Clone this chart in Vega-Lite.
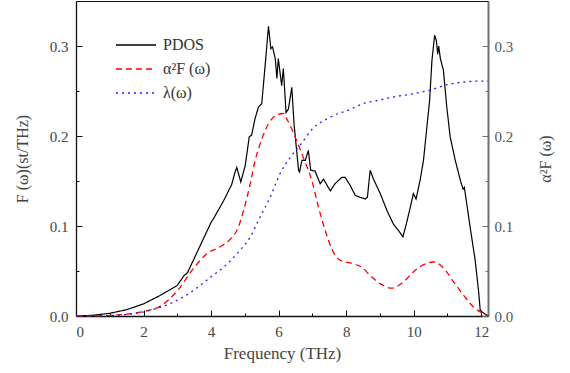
{
  "$schema": "https://vega.github.io/schema/vega-lite/v6.json",
  "autosize": "none",
  "width": 412,
  "height": 315,
  "padding": {"left": 76, "top": 1, "right": 82, "bottom": 57},
  "background": "white",
  "config": {
    "view": {"stroke": "#111", "strokeWidth": 1},
    "font": "Liberation Serif",
    "axis": {
      "grid": false,
      "labelFont": "Liberation Serif",
      "titleFont": "Liberation Serif",
      "labelFontSize": 15,
      "titleFontSize": 16,
      "titleFontWeight": "normal",
      "labelColor": "#444",
      "titleColor": "#444",
      "domainColor": "#111",
      "tickColor": "#111",
      "domainWidth": 1.3,
      "tickWidth": 1
    },
    "legend": {
      "labelFont": "Liberation Serif",
      "labelFontSize": 16,
      "labelColor": "#333"
    }
  },
  "datasets": {
    "curves": [
      {"f": 0, "v": 0, "s": "PDOS"},
      {"f": 0.5, "v": 0.0008, "s": "PDOS"},
      {"f": 1.0, "v": 0.003, "s": "PDOS"},
      {"f": 1.5, "v": 0.007, "s": "PDOS"},
      {"f": 2.0, "v": 0.0135, "s": "PDOS"},
      {"f": 2.5, "v": 0.023, "s": "PDOS"},
      {"f": 3.0, "v": 0.034, "s": "PDOS"},
      {"f": 3.2, "v": 0.045, "s": "PDOS"},
      {"f": 3.3, "v": 0.048, "s": "PDOS"},
      {"f": 3.5, "v": 0.064, "s": "PDOS"},
      {"f": 3.8, "v": 0.088, "s": "PDOS"},
      {"f": 4.0, "v": 0.104, "s": "PDOS"},
      {"f": 4.1, "v": 0.110, "s": "PDOS"},
      {"f": 4.37, "v": 0.128, "s": "PDOS"},
      {"f": 4.61, "v": 0.146, "s": "PDOS"},
      {"f": 4.71, "v": 0.160, "s": "PDOS"},
      {"f": 4.76, "v": 0.165, "s": "PDOS"},
      {"f": 4.88, "v": 0.149, "s": "PDOS"},
      {"f": 5.01, "v": 0.167, "s": "PDOS"},
      {"f": 5.13, "v": 0.199, "s": "PDOS"},
      {"f": 5.2, "v": 0.201, "s": "PDOS"},
      {"f": 5.3, "v": 0.219, "s": "PDOS"},
      {"f": 5.4, "v": 0.232, "s": "PDOS"},
      {"f": 5.5, "v": 0.236, "s": "PDOS"},
      {"f": 5.6, "v": 0.278, "s": "PDOS"},
      {"f": 5.7, "v": 0.322, "s": "PDOS"},
      {"f": 5.77, "v": 0.297, "s": "PDOS"},
      {"f": 5.82, "v": 0.299, "s": "PDOS"},
      {"f": 5.9, "v": 0.286, "s": "PDOS"},
      {"f": 5.95, "v": 0.264, "s": "PDOS"},
      {"f": 5.99, "v": 0.286, "s": "PDOS"},
      {"f": 6.09, "v": 0.256, "s": "PDOS"},
      {"f": 6.14, "v": 0.275, "s": "PDOS"},
      {"f": 6.22, "v": 0.226, "s": "PDOS"},
      {"f": 6.29, "v": 0.230, "s": "PDOS"},
      {"f": 6.39, "v": 0.254, "s": "PDOS"},
      {"f": 6.46, "v": 0.212, "s": "PDOS"},
      {"f": 6.59, "v": 0.162, "s": "PDOS"},
      {"f": 6.62, "v": 0.160, "s": "PDOS"},
      {"f": 6.69, "v": 0.173, "s": "PDOS"},
      {"f": 6.79, "v": 0.173, "s": "PDOS"},
      {"f": 6.88, "v": 0.184, "s": "PDOS"},
      {"f": 6.95, "v": 0.162, "s": "PDOS"},
      {"f": 7.08, "v": 0.161, "s": "PDOS"},
      {"f": 7.23, "v": 0.147, "s": "PDOS"},
      {"f": 7.33, "v": 0.152, "s": "PDOS"},
      {"f": 7.53, "v": 0.139, "s": "PDOS"},
      {"f": 7.67, "v": 0.147, "s": "PDOS"},
      {"f": 7.87, "v": 0.154, "s": "PDOS"},
      {"f": 7.97, "v": 0.154, "s": "PDOS"},
      {"f": 8.12, "v": 0.145, "s": "PDOS"},
      {"f": 8.27, "v": 0.134, "s": "PDOS"},
      {"f": 8.41, "v": 0.132, "s": "PDOS"},
      {"f": 8.56, "v": 0.130, "s": "PDOS"},
      {"f": 8.63, "v": 0.132, "s": "PDOS"},
      {"f": 8.71, "v": 0.162, "s": "PDOS"},
      {"f": 8.81, "v": 0.152, "s": "PDOS"},
      {"f": 9.01, "v": 0.136, "s": "PDOS"},
      {"f": 9.21, "v": 0.117, "s": "PDOS"},
      {"f": 9.4, "v": 0.102, "s": "PDOS"},
      {"f": 9.55, "v": 0.095, "s": "PDOS"},
      {"f": 9.68, "v": 0.088, "s": "PDOS"},
      {"f": 9.78, "v": 0.102, "s": "PDOS"},
      {"f": 9.9, "v": 0.121, "s": "PDOS"},
      {"f": 9.99, "v": 0.136, "s": "PDOS"},
      {"f": 10.07, "v": 0.130, "s": "PDOS"},
      {"f": 10.19, "v": 0.151, "s": "PDOS"},
      {"f": 10.29, "v": 0.173, "s": "PDOS"},
      {"f": 10.39, "v": 0.210, "s": "PDOS"},
      {"f": 10.47, "v": 0.239, "s": "PDOS"},
      {"f": 10.54, "v": 0.284, "s": "PDOS"},
      {"f": 10.62, "v": 0.312, "s": "PDOS"},
      {"f": 10.67, "v": 0.306, "s": "PDOS"},
      {"f": 10.71, "v": 0.291, "s": "PDOS"},
      {"f": 10.74, "v": 0.300, "s": "PDOS"},
      {"f": 10.79, "v": 0.286, "s": "PDOS"},
      {"f": 10.88, "v": 0.273, "s": "PDOS"},
      {"f": 10.98, "v": 0.232, "s": "PDOS"},
      {"f": 11.08, "v": 0.199, "s": "PDOS"},
      {"f": 11.23, "v": 0.173, "s": "PDOS"},
      {"f": 11.38, "v": 0.151, "s": "PDOS"},
      {"f": 11.46, "v": 0.141, "s": "PDOS"},
      {"f": 11.5, "v": 0.143, "s": "PDOS"},
      {"f": 11.67, "v": 0.099, "s": "PDOS"},
      {"f": 11.82, "v": 0.062, "s": "PDOS"},
      {"f": 11.92, "v": 0.028, "s": "PDOS"},
      {"f": 11.97, "v": 0.006, "s": "PDOS"},
      {"f": 12.12, "v": 0.002, "s": "PDOS"},
      {"f": 12.2, "v": 0.0, "s": "PDOS"},

      {"f": 0, "v": 0, "s": "α²F (ω)"},
      {"f": 1.0, "v": 0.0006, "s": "α²F (ω)"},
      {"f": 1.5, "v": 0.002, "s": "α²F (ω)"},
      {"f": 2.0, "v": 0.005, "s": "α²F (ω)"},
      {"f": 2.5, "v": 0.011, "s": "α²F (ω)"},
      {"f": 3.0, "v": 0.028, "s": "α²F (ω)"},
      {"f": 3.5, "v": 0.054, "s": "α²F (ω)"},
      {"f": 3.87, "v": 0.069, "s": "α²F (ω)"},
      {"f": 4.27, "v": 0.077, "s": "α²F (ω)"},
      {"f": 4.56, "v": 0.085, "s": "α²F (ω)"},
      {"f": 4.81, "v": 0.099, "s": "α²F (ω)"},
      {"f": 4.96, "v": 0.117, "s": "α²F (ω)"},
      {"f": 5.16, "v": 0.147, "s": "α²F (ω)"},
      {"f": 5.3, "v": 0.172, "s": "α²F (ω)"},
      {"f": 5.45, "v": 0.191, "s": "α²F (ω)"},
      {"f": 5.6, "v": 0.206, "s": "α²F (ω)"},
      {"f": 5.8, "v": 0.219, "s": "α²F (ω)"},
      {"f": 6.0, "v": 0.224, "s": "α²F (ω)"},
      {"f": 6.14, "v": 0.225, "s": "α²F (ω)"},
      {"f": 6.24, "v": 0.219, "s": "α²F (ω)"},
      {"f": 6.49, "v": 0.199, "s": "α²F (ω)"},
      {"f": 6.73, "v": 0.176, "s": "α²F (ω)"},
      {"f": 6.98, "v": 0.151, "s": "α²F (ω)"},
      {"f": 7.18, "v": 0.121, "s": "α²F (ω)"},
      {"f": 7.38, "v": 0.095, "s": "α²F (ω)"},
      {"f": 7.58, "v": 0.074, "s": "α²F (ω)"},
      {"f": 7.82, "v": 0.062, "s": "α²F (ω)"},
      {"f": 8.22, "v": 0.058, "s": "α²F (ω)"},
      {"f": 8.47, "v": 0.054, "s": "α²F (ω)"},
      {"f": 8.71, "v": 0.045, "s": "α²F (ω)"},
      {"f": 9.0, "v": 0.036, "s": "α²F (ω)"},
      {"f": 9.35, "v": 0.031, "s": "α²F (ω)"},
      {"f": 9.7, "v": 0.038, "s": "α²F (ω)"},
      {"f": 9.99, "v": 0.049, "s": "α²F (ω)"},
      {"f": 10.29, "v": 0.057, "s": "α²F (ω)"},
      {"f": 10.59, "v": 0.060, "s": "α²F (ω)"},
      {"f": 10.88, "v": 0.0535, "s": "α²F (ω)"},
      {"f": 11.18, "v": 0.038, "s": "α²F (ω)"},
      {"f": 11.48, "v": 0.023, "s": "α²F (ω)"},
      {"f": 11.77, "v": 0.010, "s": "α²F (ω)"},
      {"f": 12.07, "v": 0.0025, "s": "α²F (ω)"},
      {"f": 12.2, "v": 0.0, "s": "α²F (ω)"},

      {"f": 0, "v": 0, "s": "λ(ω)"},
      {"f": 1.0, "v": 0.0005, "s": "λ(ω)"},
      {"f": 1.5, "v": 0.0017, "s": "λ(ω)"},
      {"f": 2.17, "v": 0.006, "s": "λ(ω)"},
      {"f": 2.77, "v": 0.0135, "s": "λ(ω)"},
      {"f": 3.26, "v": 0.023, "s": "λ(ω)"},
      {"f": 3.75, "v": 0.036, "s": "λ(ω)"},
      {"f": 4.05, "v": 0.045, "s": "λ(ω)"},
      {"f": 4.27, "v": 0.051, "s": "λ(ω)"},
      {"f": 4.76, "v": 0.069, "s": "λ(ω)"},
      {"f": 5.16, "v": 0.088, "s": "λ(ω)"},
      {"f": 5.45, "v": 0.110, "s": "λ(ω)"},
      {"f": 5.75, "v": 0.132, "s": "λ(ω)"},
      {"f": 6.04, "v": 0.158, "s": "λ(ω)"},
      {"f": 6.34, "v": 0.176, "s": "λ(ω)"},
      {"f": 6.66, "v": 0.191, "s": "λ(ω)"},
      {"f": 7.03, "v": 0.209, "s": "λ(ω)"},
      {"f": 7.43, "v": 0.219, "s": "λ(ω)"},
      {"f": 7.77, "v": 0.225, "s": "λ(ω)"},
      {"f": 8.02, "v": 0.228, "s": "λ(ω)"},
      {"f": 8.51, "v": 0.236, "s": "λ(ω)"},
      {"f": 9.0, "v": 0.240, "s": "λ(ω)"},
      {"f": 9.5, "v": 0.244, "s": "λ(ω)"},
      {"f": 9.99, "v": 0.247, "s": "λ(ω)"},
      {"f": 10.49, "v": 0.251, "s": "λ(ω)"},
      {"f": 10.98, "v": 0.257, "s": "λ(ω)"},
      {"f": 11.48, "v": 0.260, "s": "λ(ω)"},
      {"f": 11.97, "v": 0.261, "s": "λ(ω)"},
      {"f": 12.2, "v": 0.261, "s": "λ(ω)"}
    ]
  },
  "data": {"name": "curves"},
  "encoding": {
    "x": {
      "field": "f",
      "type": "quantitative",
      "scale": {"domain": [0, 12.2], "nice": false, "zero": false},
      "axis": {
        "title": "Frequency (THz)",
        "titleFontSize": 17,
        "values": [0, 1, 2, 3, 4, 5, 6, 7, 8, 9, 10, 11, 12],
        "labelExpr": "datum.value % 2 == 0 ? datum.label : ''",
        "format": "d",
        "tickSize": {"condition": {"test": "datum.value % 2 == 1", "value": -3}, "value": -6},
        "labelPadding": 14,
        "titlePadding": 6
      }
    },
    "color": {
      "field": "s", "type": "nominal",
      "scale": {"domain": ["PDOS", "α²F (ω)", "λ(ω)"], "range": ["#000000", "#ff0000", "#2020ff"]},
      "legend": {
        "title": null, "orient": "none", "legendX": 49, "legendY": 33,
        "symbolType": "M-2,0H2", "symbolSize": 400, "symbolStrokeWidth": 1.3,
        "rowPadding": 5, "labelOffset": 16, "padding": 0
      }
    },
    "strokeDash": {
      "field": "s", "type": "nominal",
      "scale": {"domain": ["PDOS", "α²F (ω)", "λ(ω)"], "range": [[1, 0], [6, 4], [2, 4]]},
      "legend": {
        "title": null, "orient": "none", "legendX": 49, "legendY": 33,
        "symbolType": "M-2,0H2", "symbolSize": 400, "symbolStrokeWidth": 1.3,
        "rowPadding": 5, "labelOffset": 16, "padding": 0
      }
    }
  },
  "layer": [
    {
      "transform": [{"filter": "datum.s == 'PDOS'"}],
      "mark": {"type": "line", "strokeWidth": 1.2, "interpolate": "linear"},
      "encoding": {
        "y": {
          "field": "v", "type": "quantitative",
          "scale": {"domain": [0, 0.35], "nice": false},
          "axis": {
            "orient": "left",
            "title": "F (ω)(st/THz)",
            "values": [0, 0.05, 0.1, 0.15, 0.2, 0.25, 0.3],
            "format": ".1f",
            "labelExpr": "round(datum.value*20) % 2 == 0 ? datum.label : ''",
            "tickSize": {"condition": {"test": "round(datum.value*20) % 2 == 1", "value": -3}, "value": -6},
            "labelPadding": 14,
            "titlePadding": 19
          }
        }
      }
    },
    {
      "transform": [{"filter": "datum.s != 'PDOS'"}],
      "mark": {"type": "line", "strokeWidth": 1.3, "interpolate": "monotone"},
      "encoding": {
        "y": {"field": "v", "type": "quantitative", "scale": {"domain": [0, 0.35], "nice": false}, "axis": null}
      }
    },
    {
      "transform": [{"filter": "datum.s == 'PDOS'"}],
      "mark": {"type": "line", "strokeOpacity": 0},
      "encoding": {
        "y": {
          "field": "v", "type": "quantitative",
          "scale": {"domain": [0, 0.35], "nice": false},
          "axis": {
            "orient": "right",
            "title": "α²F (ω)",
            "titleAngle": 270,
            "titleBaseline": "top",
            "values": [0, 0.05, 0.1, 0.15, 0.2, 0.25, 0.3],
            "format": ".1f",
            "labelExpr": "round(datum.value*20) % 2 == 0 ? datum.label : ''",
            "tickSize": {"condition": {"test": "round(datum.value*20) % 2 == 1", "value": -3}, "value": -6},
            "domainColor": "#707070",
            "tickColor": "#707070",
            "domainWidth": 2,
            "labelColor": "#555",
            "labelPadding": 12,
            "titlePadding": 25
          }
        }
      }
    }
  ],
  "resolve": {"scale": {"y": "independent"}}
}
